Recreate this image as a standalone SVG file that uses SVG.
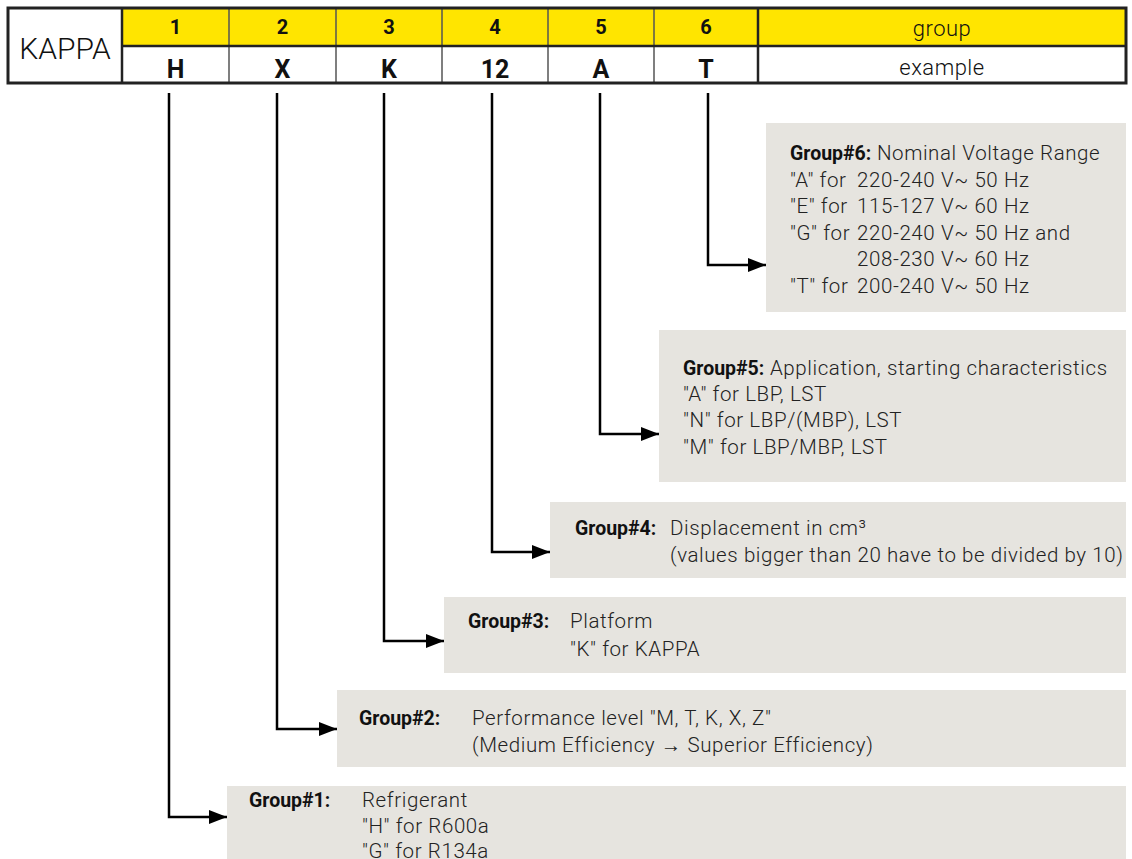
<svg xmlns="http://www.w3.org/2000/svg" width="1132" height="859" viewBox="0 0 1132 859">
<defs>
<style>
.box{fill:#e6e4df}
.t{font-family:Roboto,"Liberation Sans",sans-serif;font-size:20.5px;font-weight:300;letter-spacing:0.6px;fill:#222}
.b{font-family:Roboto,"Liberation Sans",sans-serif;font-size:19.5px;font-weight:bold;fill:#111;letter-spacing:0}
.num{font-family:Roboto,"Liberation Sans",sans-serif;font-size:20px;font-weight:bold;fill:#111;text-anchor:middle}
.val{font-family:Roboto,"Liberation Sans",sans-serif;font-size:25px;font-weight:bold;fill:#111;text-anchor:middle}
.hd{font-family:Roboto,"Liberation Sans",sans-serif;font-size:22px;font-weight:300;letter-spacing:0.5px;fill:#111;text-anchor:middle}
.conn{fill:none;stroke:#000;stroke-width:2.5}
.thin{stroke:#555;stroke-width:1.5}
.thick{stroke:#222;stroke-width:2.5}
</style>
<marker id="arr" markerUnits="userSpaceOnUse" markerWidth="20" markerHeight="16" refX="18" refY="7" orient="auto">
<path d="M0,0 L18,7 L0,14 z" fill="#000"/>
</marker>
</defs>
<rect width="1132" height="859" fill="#fff"/>

<g id="table">
<rect x="8" y="8" width="114" height="75" fill="#fff"/>
<rect x="122" y="8" width="1004" height="38" fill="#ffe500"/>
<rect x="122" y="46" width="1004" height="37" fill="#fff"/>
<line class="thin" x1="229" y1="8" x2="229" y2="83"/>
<line class="thin" x1="336" y1="8" x2="336" y2="83"/>
<line class="thin" x1="442" y1="8" x2="442" y2="83"/>
<line class="thin" x1="548" y1="8" x2="548" y2="83"/>
<line class="thin" x1="654" y1="8" x2="654" y2="83"/>
<line class="thick" x1="122" y1="46" x2="1126" y2="46"/>
<line class="thick" x1="122" y1="8" x2="122" y2="83"/>
<line class="thick" x1="758" y1="8" x2="758" y2="83"/>
<rect x="8" y="8" width="1118" height="75" fill="none" stroke="#222" stroke-width="3"/>
<text x="65" y="59" font-family="Roboto,'Liberation Sans',sans-serif" font-size="30" font-weight="300" fill="#111" text-anchor="middle">KAPPA</text>
<text class="num" x="175.5" y="34">1</text>
<text class="num" x="282.5" y="34">2</text>
<text class="num" x="389" y="34">3</text>
<text class="num" x="495" y="34">4</text>
<text class="num" x="601" y="34">5</text>
<text class="num" x="706" y="34">6</text>
<text class="hd" x="942" y="36">group</text>
<text class="val" x="175.5" y="78">H</text>
<text class="val" x="282.5" y="78">X</text>
<text class="val" x="389" y="78">K</text>
<text class="val" x="495" y="78">12</text>
<text class="val" x="601" y="78">A</text>
<text class="val" x="706" y="78">T</text>
<text class="hd" x="942" y="75">example</text>
</g>

<g id="connectors">
<path class="conn" marker-end="url(#arr)" d="M708,93 V265 H766"/>
<path class="conn" marker-end="url(#arr)" d="M600,93 V434 H659"/>
<path class="conn" marker-end="url(#arr)" d="M492,93 V552 H550"/>
<path class="conn" marker-end="url(#arr)" d="M384,93 V641 H444"/>
<path class="conn" marker-end="url(#arr)" d="M277,93 V729 H337"/>
<path class="conn" marker-end="url(#arr)" d="M169,93 V817 H227"/>
</g>

<g id="group6">
<rect class="box" x="766" y="123" width="360" height="189"/>
<text x="790" y="160"><tspan class="b">Group#6:</tspan><tspan class="t"> Nominal Voltage Range</tspan></text>
<text class="t" x="790" y="187">"A" for</text><text class="t" x="857" y="187">220-240 V~ 50 Hz</text>
<text class="t" x="790" y="213">"E" for</text><text class="t" x="857" y="213">115-127 V~ 60 Hz</text>
<text class="t" x="790" y="240">"G" for</text><text class="t" x="857" y="240">220-240 V~ 50 Hz and</text>
<text class="t" x="857" y="266">208-230 V~ 60 Hz</text>
<text class="t" x="790" y="293">"T" for</text><text class="t" x="857" y="293">200-240 V~ 50 Hz</text>
</g>

<g id="group5">
<rect class="box" x="659" y="330" width="467" height="152"/>
<text x="683" y="375"><tspan class="b">Group#5:</tspan><tspan class="t"> Application, starting characteristics</tspan></text>
<text class="t" x="683" y="401">"A" for LBP, LST</text>
<text class="t" x="683" y="427">"N" for LBP/(MBP), LST</text>
<text class="t" x="683" y="454">"M" for LBP/MBP, LST</text>
</g>

<g id="group4">
<rect class="box" x="550" y="502" width="576" height="76"/>
<text class="b" x="575" y="535">Group#4:</text>
<text class="t" x="670" y="535">Displacement in cm³</text>
<text class="t" x="670" y="562">(values bigger than 20 have to be divided by 10)</text>
</g>

<g id="group3">
<rect class="box" x="444" y="597" width="682" height="76"/>
<text class="b" x="468" y="628">Group#3:</text>
<text class="t" x="570" y="628">Platform</text>
<text class="t" x="570" y="656">"K" for KAPPA</text>
</g>

<g id="group2">
<rect class="box" x="337" y="690" width="789" height="77"/>
<text class="b" x="359" y="725">Group#2:</text>
<text class="t" x="472" y="725">Performance level "M, T, K, X, Z"</text>
<text class="t" x="472" y="752">(Medium Efficiency → Superior Efficiency)</text>
</g>

<g id="group1">
<rect class="box" x="227" y="786" width="899" height="73"/>
<text class="b" x="249" y="807">Group#1:</text>
<text class="t" x="362" y="807">Refrigerant</text>
<text class="t" x="362" y="833">"H" for R600a</text>
<text class="t" x="362" y="858">"G" for R134a</text>
</g>
</svg>
